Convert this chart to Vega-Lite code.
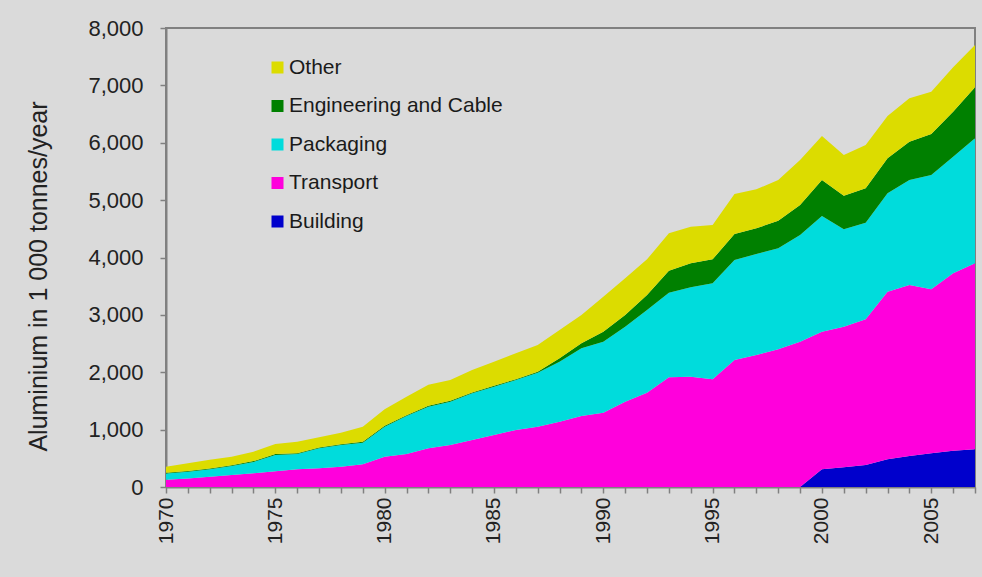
{
  "$schema": "https://vega.github.io/schema/vega-lite/v6.json",
  "width": 809,
  "height": 459,
  "autosize": "none",
  "padding": {"left": 166, "top": 28, "right": 7, "bottom": 90},
  "background": "#dadada",
  "config": {
    "view": {"stroke": "#808080", "strokeWidth": 2, "fill": "#dadada"},
    "font": "Liberation Sans"
  },
  "data": {
    "values": [
      {"year": 1970, "Building": 0, "Transport": 125, "Packaging": 110, "Engineering and Cable": 15, "Other": 105},
      {"year": 1971, "Building": 0, "Transport": 150, "Packaging": 115, "Engineering and Cable": 15, "Other": 135},
      {"year": 1972, "Building": 0, "Transport": 180, "Packaging": 128, "Engineering and Cable": 15, "Other": 150},
      {"year": 1973, "Building": 0, "Transport": 209, "Packaging": 157, "Engineering and Cable": 15, "Other": 145},
      {"year": 1974, "Building": 0, "Transport": 238, "Packaging": 198, "Engineering and Cable": 15, "Other": 165},
      {"year": 1975, "Building": 0, "Transport": 273, "Packaging": 285, "Engineering and Cable": 15, "Other": 175},
      {"year": 1976, "Building": 0, "Transport": 308, "Packaging": 267, "Engineering and Cable": 15, "Other": 200},
      {"year": 1977, "Building": 0, "Transport": 325, "Packaging": 349, "Engineering and Cable": 15, "Other": 177},
      {"year": 1978, "Building": 0, "Transport": 354, "Packaging": 378, "Engineering and Cable": 15, "Other": 200},
      {"year": 1979, "Building": 0, "Transport": 395, "Packaging": 378, "Engineering and Cable": 15, "Other": 260},
      {"year": 1980, "Building": 0, "Transport": 528, "Packaging": 523, "Engineering and Cable": 15, "Other": 290},
      {"year": 1981, "Building": 0, "Transport": 575, "Packaging": 662, "Engineering and Cable": 15, "Other": 320},
      {"year": 1982, "Building": 0, "Transport": 674, "Packaging": 726, "Engineering and Cable": 15, "Other": 365},
      {"year": 1983, "Building": 0, "Transport": 732, "Packaging": 755, "Engineering and Cable": 15, "Other": 365},
      {"year": 1984, "Building": 0, "Transport": 819, "Packaging": 814, "Engineering and Cable": 15, "Other": 390},
      {"year": 1985, "Building": 0, "Transport": 906, "Packaging": 843, "Engineering and Cable": 15, "Other": 420},
      {"year": 1986, "Building": 0, "Transport": 994, "Packaging": 871, "Engineering and Cable": 15, "Other": 450},
      {"year": 1987, "Building": 0, "Transport": 1052, "Packaging": 941, "Engineering and Cable": 15, "Other": 467},
      {"year": 1988, "Building": 0, "Transport": 1139, "Packaging": 1045, "Engineering and Cable": 59, "Other": 494},
      {"year": 1989, "Building": 0, "Transport": 1238, "Packaging": 1179, "Engineering and Cable": 87, "Other": 494},
      {"year": 1990, "Building": 0, "Transport": 1296, "Packaging": 1237, "Engineering and Cable": 175, "Other": 610},
      {"year": 1991, "Building": 0, "Transport": 1487, "Packaging": 1308, "Engineering and Cable": 203, "Other": 639},
      {"year": 1992, "Building": 0, "Transport": 1644, "Packaging": 1441, "Engineering and Cable": 261, "Other": 622},
      {"year": 1993, "Building": 0, "Transport": 1912, "Packaging": 1475, "Engineering and Cable": 384, "Other": 651},
      {"year": 1994, "Building": 0, "Transport": 1923, "Packaging": 1560, "Engineering and Cable": 416, "Other": 639},
      {"year": 1995, "Building": 0, "Transport": 1877, "Packaging": 1673, "Engineering and Cable": 418, "Other": 599},
      {"year": 1996, "Building": 0, "Transport": 2214, "Packaging": 1743, "Engineering and Cable": 453, "Other": 697},
      {"year": 1997, "Building": 0, "Transport": 2301, "Packaging": 1760, "Engineering and Cable": 448, "Other": 680},
      {"year": 1998, "Building": 0, "Transport": 2400, "Packaging": 1760, "Engineering and Cable": 482, "Other": 709},
      {"year": 1999, "Building": 0, "Transport": 2533, "Packaging": 1859, "Engineering and Cable": 523, "Other": 785},
      {"year": 2000, "Building": 308, "Transport": 2399, "Packaging": 2017, "Engineering and Cable": 627, "Other": 767},
      {"year": 2001, "Building": 343, "Transport": 2452, "Packaging": 1696, "Engineering and Cable": 587, "Other": 709},
      {"year": 2002, "Building": 383, "Transport": 2539, "Packaging": 1685, "Engineering and Cable": 599, "Other": 755},
      {"year": 2003, "Building": 482, "Transport": 2923, "Packaging": 1714, "Engineering and Cable": 610, "Other": 738},
      {"year": 2004, "Building": 540, "Transport": 2981, "Packaging": 1830, "Engineering and Cable": 668, "Other": 756},
      {"year": 2005, "Building": 587, "Transport": 2858, "Packaging": 1993, "Engineering and Cable": 715, "Other": 737},
      {"year": 2006, "Building": 633, "Transport": 3091, "Packaging": 2033, "Engineering and Cable": 784, "Other": 774},
      {"year": 2007, "Building": 657, "Transport": 3242, "Packaging": 2178, "Engineering and Cable": 890, "Other": 737}
    ]
  },
  "transform": [
    {"fold": ["Building", "Transport", "Packaging", "Engineering and Cable", "Other"], "as": ["category", "value"]},
    {"calculate": "indexof(['Building', 'Transport', 'Packaging', 'Engineering and Cable', 'Other'], datum.category)", "as": "stackIndex"}
  ],
  "mark": {"type": "area", "interpolate": "linear", "strokeWidth": 0},
  "encoding": {
    "x": {
      "field": "year",
      "type": "quantitative",
      "scale": {"domain": [1970, 2007], "nice": false, "zero": false},
      "axis": {
        "title": null,
        "values": [1970,1971,1972,1973,1974,1975,1976,1977,1978,1979,1980,1981,1982,1983,1984,1985,1986,1987,1988,1989,1990,1991,1992,1993,1994,1995,1996,1997,1998,1999,2000,2001,2002,2003,2004,2005,2006,2007],
        "labelExpr": "datum.value % 5 === 0 ? '' + datum.value : ''",
        "labelAngle": -90,
        "labelAlign": "right",
        "labelBaseline": "middle",
        "labelFontSize": 21,
        "labelColor": "#222222",
        "labelPadding": 4,
        "labelOverlap": false,
        "labelBound": false,
        "labelFlush": false,
        "tickSize": 6,
        "tickColor": "#808080",
        "tickWidth": 1.5,
        "domainColor": "#808080",
        "domainWidth": 2,
        "grid": false
      }
    },
    "y": {
      "field": "value",
      "type": "quantitative",
      "stack": "zero",
      "scale": {"domain": [0, 8000], "nice": false},
      "axis": {
        "title": "Aluminium in 1 000 tonnes/year",
        "titleFontSize": 25,
        "titleFontWeight": "normal",
        "titleColor": "#222222",
        "titleAngle": -90,
        "titleX": -128,
        "titleY": 248,
        "titleAlign": "center",
        "titleBaseline": "middle",
        "values": [0,1000,2000,3000,4000,5000,6000,7000,8000],
        "format": ",d",
        "labelFontSize": 22,
        "labelColor": "#222222",
        "labelPadding": 17,
        "tickSize": 6,
        "tickColor": "#808080",
        "tickWidth": 1.5,
        "domainColor": "#808080",
        "domainWidth": 2,
        "grid": false
      }
    },
    "order": {"field": "stackIndex", "type": "quantitative", "sort": "ascending"},
    "color": {
      "field": "category",
      "type": "nominal",
      "sort": ["Other", "Engineering and Cable", "Packaging", "Transport", "Building"],
      "scale": {
        "domain": ["Other", "Engineering and Cable", "Packaging", "Transport", "Building"],
        "range": ["#dcdc00", "#008000", "#00dcdc", "#ff00dc", "#0000cc"]
      },
      "legend": {
        "title": null,
        "orient": "none",
        "legendX": 101,
        "legendY": 29,
        "symbolType": "square",
        "symbolSize": 144,
        "symbolStrokeWidth": 0,
        "labelFontSize": 21,
        "labelColor": "#1a1a1a",
        "labelOffset": 1,
        "rowPadding": 16.5,
        "labelLimit": 400
      }
    }
  }
}
